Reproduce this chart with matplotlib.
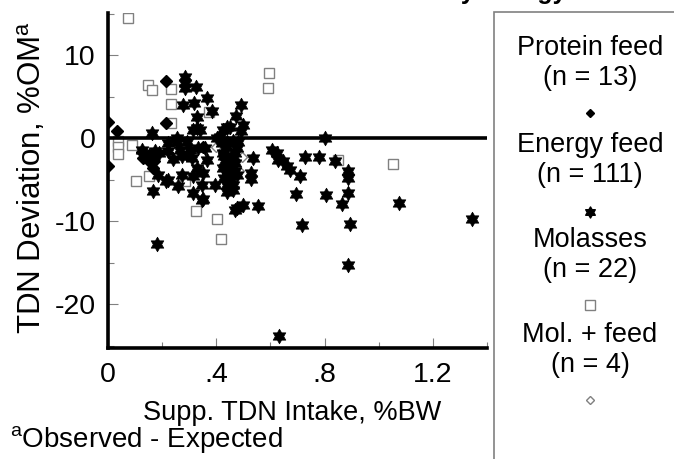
import matplotlib
matplotlib.use("Agg")
import matplotlib.pyplot as plt
from matplotlib.lines import Line2D
from matplotlib.patches import Rectangle
from matplotlib.path import Path
from matplotlib.ticker import MultipleLocator, FixedFormatter, FixedLocator

plt.rcParams['font.family'] = ['Liberation Sans', 'DejaVu Sans']
plt.rcParams['axes.unicode_minus'] = False

# supplemental TDN intake (%BW) vs TDN deviation (%OM)
protein_x = [0.0, 0.035, 0.0, 0.216, 0.216, 0.124, 0.13, 0.16, 0.165, 0.15, 0.17, 0.29, 0.35]
protein_y = [2.0, 0.9, -3.3, 6.9, 1.8, -1.7, -2.4, -3.0, -3.6, -2.0, -2.8, -2.0, -1.0]

energy_x = [0.284, 0.284, 0.284, 0.325, 0.367, 0.278, 0.317, 0.383, 0.327, 0.314,
            0.339, 0.161, 0.254, 0.426, 0.401, 0.124, 0.174, 0.223, 0.266, 0.303,
            0.334, 0.272, 0.309, 0.364, 0.167, 0.327, 0.186, 0.272, 0.223, 0.259,
            0.314, 0.352, 0.346, 0.395, 0.167, 0.313, 0.352, 0.438, 0.49, 0.472,
            0.5, 0.493, 0.45, 0.414, 0.803, 0.438, 0.475, 0.425, 0.463, 0.431,
            0.468, 0.425, 0.45, 0.475, 0.444, 0.463, 0.537, 0.53, 0.53, 0.604,
            0.623, 0.629, 0.648, 0.66, 0.672, 0.709, 0.727, 0.78, 0.696, 0.805,
            0.5, 0.555, 0.475, 0.838, 0.885, 0.885, 0.885, 0.866, 0.894, 0.885,
            1.075, 1.343, 0.715, 0.18, 0.216, 0.348, 0.469, 0.633, 0.438, 0.327,
            0.254, 0.223, 0.44, 0.46, 0.47, 0.43, 0.455, 0.44, 0.47, 0.455,
            0.43, 0.46, 0.44, 0.42, 0.48, 0.45, 0.14, 0.19, 0.29, 0.24, 0.36]
energy_y = [7.4, 6.6, 6.0, 6.2, 4.9, 4.0, 4.3, 3.3, 2.5, 1.0,
            1.0, 0.6, 0.0, 1.0, 0.0, -1.4, -1.5, -1.6, -1.4, -1.4,
            -1.2, -2.2, -2.4, -2.6, -2.2, -3.6, -4.4, -4.4, -5.1, -5.8,
            -4.6, -4.2, -5.6, -5.6, -6.4, -6.6, -7.3, -5.6, 4.0, 2.7,
            1.6, 0.9, 1.4, 0.2, 0.0, -1.0, -1.2, -1.8, -2.2, -2.8,
            -3.0, -3.6, -3.8, -4.4, -4.6, -5.6, -2.4, -4.2, -4.9, -1.4,
            -1.8, -2.6, -2.8, -3.4, -3.8, -4.6, -2.3, -2.3, -6.7, -6.8,
            -8.0, -8.2, -8.4, -2.8, -3.9, -4.8, -6.6, -7.9, -10.3, -15.3,
            -7.8, -9.8, -10.5, -12.7, -5.2, -7.5, -8.7, -23.8, 1.3, 1.2,
            -0.4, -0.6, -0.5, -0.3, -1.8, -2.2, -3.2, -3.3, -4.0, -5.0,
            -4.8, -6.2, -6.5, -0.6, -0.4, -2.6, -2.0, -1.8, -0.5, -2.5, -1.2]

molasses_x = [0.075, 0.149, 0.161, 0.231, 0.231, 0.234, 0.374, 0.038, 0.038, 0.038, 0.087,
              0.105, 0.153, 0.284, 0.326, 0.404, 0.416, 0.595, 0.592, 0.85, 1.054, 0.44]
molasses_y = [14.5, 6.4, 5.8, 5.9, 4.1, 1.8, 3.2, -0.3, -1.0, -1.9, -0.8,
              -5.2, -4.6, -5.2, -8.8, -9.8, -12.1, 7.9, 6.0, -2.6, -3.1, -1.5]

molfeed_x = [0.494, 0.485, 0.44, 0.40]
molfeed_y = [-2.3, -3.9, -2.8, -1.0]

legend_names = ["Protein feed", "Energy feed", "Molasses", "Mol. + feed"]
legend_counts = [13, 111, 22, 4]

W, H = 674, 459
fig = plt.figure(figsize=(6.74, 4.59), dpi=100)
ax = fig.add_axes([108 / W, 1 - 348 / H, (487 - 108) / W, (348 - 13) / H])

star = Path.unit_regular_star(6, 0.58)   # fat six-point star
grey = '#808080'

ax.plot(molasses_x, molasses_y, ls='none', marker='s', ms=7.5, mfc='white', mec=grey, mew=1.0)
ax.plot(molfeed_x, molfeed_y, ls='none', marker='D', ms=5, mfc='white', mec=grey, mew=1.0)
ax.axhline(0, color='black', lw=2.6, zorder=2)
ax.plot(energy_x, energy_y, ls='none', marker=star, ms=10.5, color='black', mew=0.5, zorder=3)
ax.plot(protein_x, protein_y, ls='none', marker='D', ms=5.8, color='black', zorder=3)

ax.set_xlim(0, 1.4)
ax.set_ylim(-25.3, 15.1)

for s in ['top', 'right']:
    ax.spines[s].set_visible(False)
for s in ['left', 'bottom']:
    ax.spines[s].set_linewidth(2.6)

ax.xaxis.set_major_locator(FixedLocator([0, 0.4, 0.8, 1.2]))
ax.xaxis.set_major_formatter(FixedFormatter(['0', '.4', '.8', '1.2']))
ax.xaxis.set_minor_locator(MultipleLocator(0.2))
ax.yaxis.set_major_locator(FixedLocator([-20, -10, 0, 10]))
ax.yaxis.set_major_formatter(FixedFormatter(['-20', '-10', '0', '10']))
ax.yaxis.set_minor_locator(MultipleLocator(5))
ax.tick_params(which='both', direction='in', color=grey, width=0.8, labelsize=20.5)
ax.tick_params(which='major', length=7)
ax.tick_params(which='minor', length=4)
ax.tick_params(axis='x', pad=10)
ax.tick_params(axis='y', pad=9)

fig.text(292 / W, 1 - 413 / H, "Supp. TDN Intake, %BW", ha='center', va='center', fontsize=19.5)
fig.text(32 / W, 1 - 177 / H, "TDN Deviation, %OM$^{\\mathregular{a}}$", rotation=90,
         ha='center', va='center', fontsize=22.5)
fig.text(10 / W, 1 - 440 / H, "$^{\\mathregular{a}}$Observed - Expected", ha='left', va='center', fontsize=20)

# title is cut off by the top edge, only descenders show
fig.text(566 / W, 1 + 0.5 / H, "TDN Deviation by Energy", ha='right', va='baseline',
         fontsize=18, fontweight='bold')

# legend panel
fig.add_artist(Rectangle((494 / W, -0.1), 0.5, 1.1 - 12 / H, transform=fig.transFigure,
                         fill=False, edgecolor=grey, lw=1.2))
cx = 590 / W
text_rows = [(48, 78, 113), (145, 175, 212), (240, 270, 305), (335, 365, 400)]
styles = [dict(marker='D', ms=4.5, color='black'),
          dict(marker=star, ms=8, color='black'),
          dict(marker='s', ms=7, mfc='white', mec=grey, mew=1.0),
          dict(marker='D', ms=4.5, mfc='white', mec=grey, mew=1.0)]
for name, n, (y1, y2, ym), st in zip(legend_names, legend_counts, text_rows, styles):
    fig.text(cx, 1 - y1 / H, name, ha='center', va='center', fontsize=19.5)
    fig.text(cx, 1 - y2 / H, "(n = %d)" % n, ha='center', va='center', fontsize=19.5)
    fig.add_artist(Line2D([cx], [1 - ym / H], transform=fig.transFigure, ls='none', **st))

fig.savefig("out.png", dpi=100)
